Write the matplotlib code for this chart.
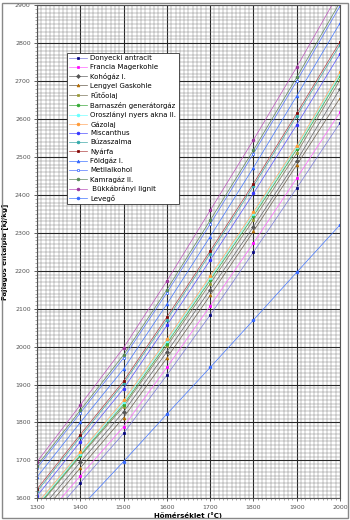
import matplotlib
matplotlib.use('Agg')
from matplotlib import pyplot as plt
from matplotlib.ticker import MultipleLocator
from matplotlib.patches import Rectangle

# Hőmérséklet (°C)
homerseklet = [1300, 1400, 1500, 1600, 1700, 1800, 1900, 2000]

# Fajlagos entalpia [kJ/kg] - leolvasott értékek
donyecki = [1510, 1641, 1771, 1925, 2083, 2249, 2418, 2590]
francia = [1527, 1659, 1789, 1945, 2107, 2273, 2444, 2618]
kohogaz = [1560, 1695, 1828, 1986, 2150, 2316, 2490, 2680]
lengyel = [1546, 1680, 1813, 1970, 2135, 2304, 2479, 2655]
futoolaj = [1575, 1711, 1842, 2001, 2166, 2334, 2510, 2703]
barnaszen = [1578, 1714, 1847, 2008, 2175, 2344, 2520, 2713]
oroszlanyi = [1582, 1718, 1853, 2014, 2180, 2350, 2526, 2718]
gazolaj = [1586, 1722, 1858, 2019, 2186, 2355, 2530, 2724]
miscanthus = [1606, 1749, 1889, 2056, 2228, 2404, 2585, 2772]
buzaszalma = [1618, 1762, 1903, 2071, 2245, 2423, 2608, 2796]
nyarfa = [1624, 1768, 1909, 2078, 2252, 2430, 2615, 2804]
foldgaz = [1656, 1800, 1941, 2112, 2290, 2472, 2661, 2853]
metilalkohol = [1680, 1825, 1970, 2142, 2323, 2509, 2700, 2898]
kamragaz = [1686, 1832, 1978, 2150, 2333, 2518, 2710, 2908]
bukkabranyi = [1696, 1846, 1997, 2173, 2359, 2545, 2737, 2938]
levego = [1452, 1575, 1697, 1822, 1945, 2070, 2196, 2321]

sorozatok = [
    ('Donyecki antracit', donyecki, '#7b7bdc', '#000080', 's', True),
    ('Francia Magerkohle', francia, '#ff66ff', '#ff00ff', 's', True),
    ('Kohógáz I.', kohogaz, '#666666', '#555555', 'D', True),
    ('Lengyel Gaskohle', lengyel, '#6b6050', '#b36b00', '^', True),
    ('Fűtőolaj', futoolaj, '#807a60', '#999933', 's', True),
    ('Barnaszén generátorgáz', barnaszen, '#44aa44', '#33aa33', 'o', True),
    ('Oroszlányi nyers akna II.', oroszlanyi, '#77ffff', '#66ffff', 'o', True),
    ('Gázolaj', gazolaj, '#ffaa66', '#ff9933', 'o', True),
    ('Miscanthus', miscanthus, '#5555ff', '#3333ff', 'o', True),
    ('Búzaszalma', buzaszalma, '#44aaaa', '#33aaaa', 'o', True),
    ('Nyárfa', nyarfa, '#b04848', '#800000', 's', True),
    ('Földgáz I.', foldgaz, '#4477ff', '#3366ff', '^', True),
    ('Metilalkohol', metilalkohol, '#5577ff', '#3366ff', 's', False),
    ('Kamragáz II.', kamragaz, '#608860', '#558855', 'o', True),
    (' Bükkábrányi lignit', bukkabranyi, '#bb55bb', '#993399', 'o', True),
    ('Levegő', levego, '#4477ff', '#3366ff', 'o', True),
]

fig = plt.figure(figsize=(3.5, 5.2), dpi=100)
ax = fig.add_axes([0.1057, 0.0417, 0.8657, 0.9481])

for nev, ertek, vszin, mszin, marker, teli in sorozatok:
    ax.plot(homerseklet, ertek, color=vszin, lw=0.5, marker=marker, ms=2.0,
            markerfacecolor=mszin if teli else 'white',
            markeredgecolor=mszin, markeredgewidth=0.5, label=nev)

ax.set_xlim(1300, 2000)
ax.set_ylim(1600, 2900)
ax.xaxis.set_major_locator(MultipleLocator(100))
ax.yaxis.set_major_locator(MultipleLocator(100))
ax.xaxis.set_minor_locator(MultipleLocator(10))
ax.yaxis.set_minor_locator(MultipleLocator(10))
ax.grid(which='major', color='#262626', lw=0.8)
ax.grid(which='minor', color='#808080', lw=0.35)
ax.set_axisbelow(True)
ax.tick_params(which='major', labelsize=4.5, labelcolor='#555555', length=2.5, width=0.6, color='#444444', pad=2)
ax.tick_params(which='minor', length=1.2, width=0.4, color='#666666')
for s in ax.spines.values():
    s.set_color('#555555')
    s.set_linewidth(0.8)

ax.set_xlabel('Hőmérséklet (°C)', fontsize=5, fontweight='bold', labelpad=2)
ax.set_ylabel('Fajlagos entalpia [kJ/kg]', fontsize=5, fontweight='bold', labelpad=5)

leg = ax.legend(loc='upper left', bbox_to_anchor=(0.086, 0.911), fontsize=5,
                frameon=True, fancybox=False, framealpha=1, edgecolor='#333333',
                handlelength=2.6, labelspacing=0.42, borderpad=0.35, handletextpad=0.5)
leg.get_frame().set_linewidth(0.6)

# külső keret
fig.patches.append(Rectangle((0.006, 0.004), 0.988, 0.99, transform=fig.transFigure,
                             fill=False, edgecolor='#888888', lw=1.0))

fig.savefig('out.png', dpi=100)
